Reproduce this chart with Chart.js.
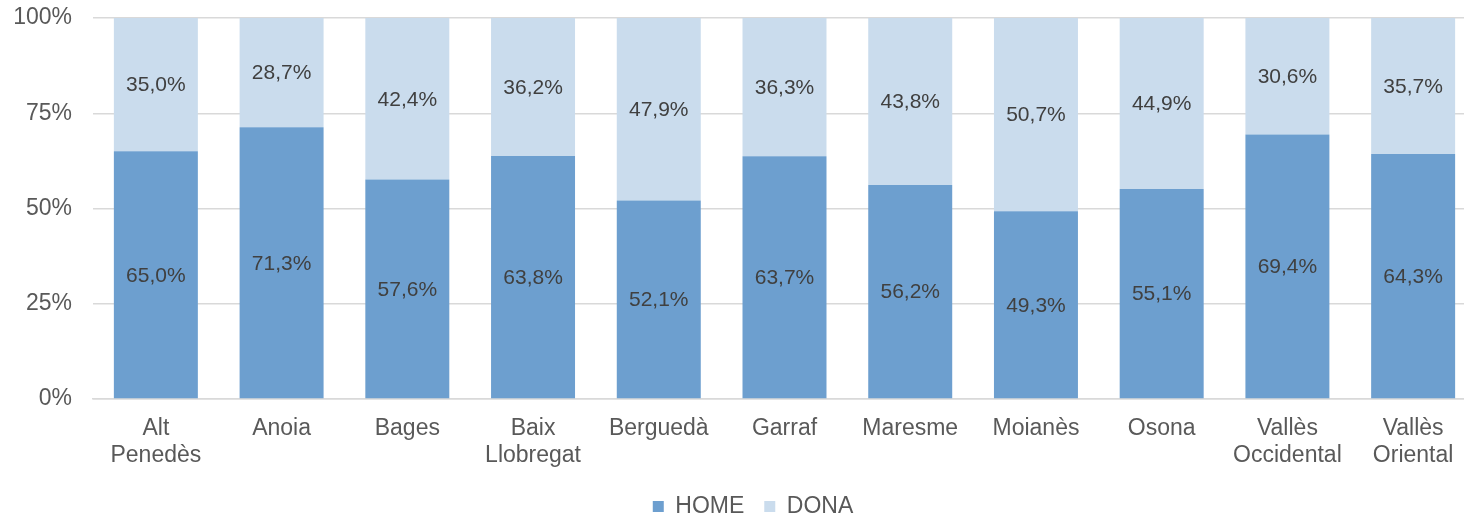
<!DOCTYPE html>
<html>
<head>
<meta charset="utf-8">
<script src="https://cdn.jsdelivr.net/npm/chart.js@4/dist/chart.umd.min.js"></script>
<style>
  html, body { margin: 0; padding: 0; background: #fff; overflow: hidden; }
  #wrap { width: 1506px; height: 528px; position: relative; }
</style>
</head>
<body>
<div id="wrap"><canvas id="chart_sexe"></canvas></div>
<script>
/* Chart init */
var comarques = [
    ["Alt", "Penedès"], "Anoia", "Bages", ["Baix", "Llobregat"], "Bergued\u00e0",
    "Garraf", "Maresme", "Moian\u00e8s", "Osona", ["Vall\u00e8s", "Occidental"], ["Vall\u00e8s", "Oriental"]
];
var home_values = [65.0, 71.3, 57.6, 63.8, 52.1, 63.7, 56.2, 49.3, 55.1, 69.4, 64.3];
var dona_values = [35.0, 28.7, 42.4, 36.2, 47.9, 36.3, 43.8, 50.7, 44.9, 30.6, 35.7];
var y_ticks = [0, 25, 50, 75, 100];

var fontFam = "'Liberation Sans', Arial, sans-serif";

// etiquetes dins de cada segment
var segmentLabels = {
    id: 'segmentLabels',
    afterDatasetsDraw: function(chart) {
        var ctx = chart.ctx;
        ctx.save();
        ctx.font = "21px " + fontFam;
        ctx.fillStyle = "#404040";
        ctx.textAlign = "center";
        ctx.textBaseline = "middle";
        chart.data.datasets.forEach(function(ds, i) {
            var meta = chart.getDatasetMeta(i);
            meta.data.forEach(function(bar, j) {
                var p = bar.getProps(['x', 'y', 'base'], true);
                var txt = ds.data[j].toFixed(1).replace('.', ',') + '%';
                ctx.fillText(txt, p.x, (p.y + p.base) / 2 + 1);
            });
        });
        ctx.restore();
    }
};

var ctx1 = document.getElementById("chart_sexe").getContext("2d");
var chart1 = new Chart(ctx1, {
    type: 'bar',
    data: {
        labels: comarques,
        datasets: [
            {
                label: 'HOME',
                data: home_values,
                backgroundColor: '#6d9fcf',
                borderWidth: 0,
                barPercentage: 0.668,
                categoryPercentage: 1
            },
            {
                label: 'DONA',
                data: dona_values,
                backgroundColor: '#cadced',
                borderWidth: 0,
                barPercentage: 0.668,
                categoryPercentage: 1
            }
        ]
    },
    options: {
        animation: false,
        responsive: true,
        maintainAspectRatio: false,
        layout: {
            padding: { left: 0, right: 0, top: 18, bottom: 0 }
        },
        plugins: {
            legend: {
                position: 'bottom',
                labels: {
                    boxWidth: 11,
                    boxHeight: 11,
                    padding: 20,
                    color: '#595959',
                    font: { family: fontFam, size: 23 }
                }
            },
            tooltip: { enabled: false }
        },
        scales: {
            x: {
                stacked: true,
                grid: { display: false, drawTicks: false },
                border: { display: true, color: '#d9d9d9', width: 1.5 },
                ticks: {
                    color: '#595959',
                    padding: 16,
                    maxRotation: 0,
                    autoSkip: false,
                    font: { family: fontFam, size: 23, lineHeight: 1.17 }
                },
                afterFit: function(s) { s.height = 76; }
            },
            y: {
                stacked: true,
                min: 0,
                max: 100,
                afterBuildTicks: function(s) {
                    s.ticks = y_ticks.map(function(v) { return { value: v }; });
                },
                grid: { color: '#d9d9d9', lineWidth: 1.5, drawTicks: false },
                border: { display: false },
                ticks: {
                    color: '#595959',
                    padding: 21,
                    font: { family: fontFam, size: 23 },
                    callback: function(v) { return v + '%'; }
                },
                afterFit: function(s) {
                    s.width = 93;
                    s.paddingTop = 0;
                    s.paddingBottom = 0;
                }
            },
            yRight: {
                position: 'right',
                display: true,
                grid: { display: false },
                border: { display: false },
                ticks: { display: false },
                afterFit: function(s) {
                    s.width = 30;
                    s.paddingTop = 0;
                    s.paddingBottom = 0;
                }
            }
        }
    },
    plugins: [segmentLabels]
});
</script>
</body>
</html>
